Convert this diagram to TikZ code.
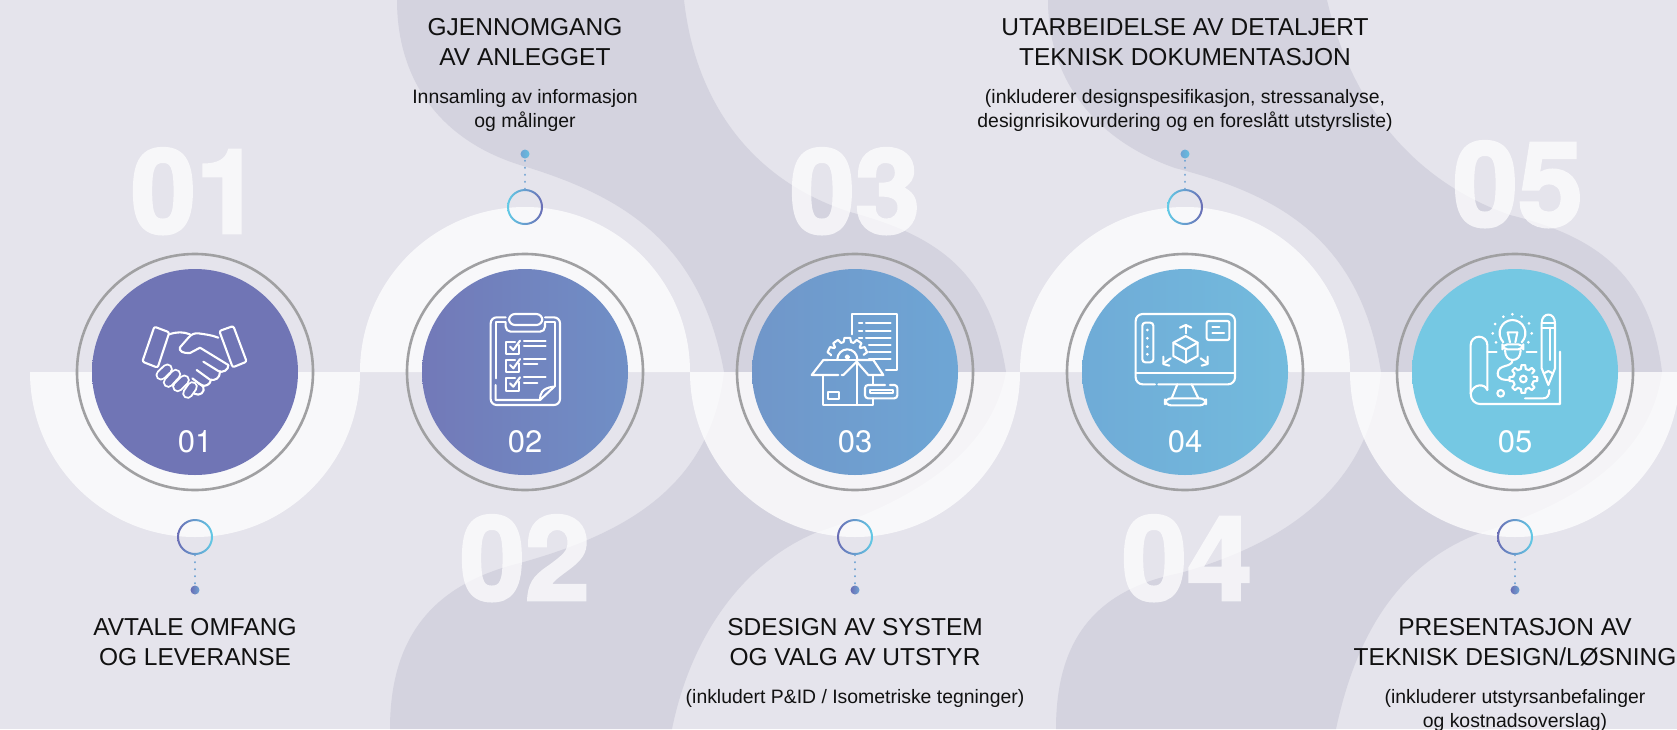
\documentclass[tikz,border=0pt]{standalone}
\usepackage{fontspec}
\setmainfont{Liberation Sans}
\newfontfamily\digitfont{TeX Gyre Heros}
\newfontface\bigdigits{TeX Gyre Heros Bold}[FakeBold=2.5]
\definecolor{bgc}{HTML}{E5E4EC}
\definecolor{blob}{HTML}{D4D3DF}
\definecolor{ringgray}{HTML}{A0A0A2}
\definecolor{purple}{HTML}{6A6DB5}
\definecolor{cyan2}{HTML}{62CBE6}
\definecolor{dotc}{HTML}{6FA3D3}
\definecolor{txt}{HTML}{111111}
\definecolor{ca}{HTML}{7075B5}
\definecolor{cb}{HTML}{7279B8}
\definecolor{cc}{HTML}{708FC6}
\definecolor{cd}{HTML}{7096C9}
\definecolor{ce}{HTML}{6EA6D5}
\definecolor{cf}{HTML}{6FABD7}
\definecolor{cg}{HTML}{73BBDD}
\definecolor{ch}{HTML}{75C8E3}
\tikzset{
  halfdisc/.style={fill=white,fill opacity=.77},
  bignum/.style={font=\fontsize{117}{117}\selectfont\bigdigits,text=white,anchor=base,inner sep=0},
  grayring/.style={draw=ringgray,line width=2.6pt,circle,minimum size=236pt,inner sep=0},
  disc/.style={circle,minimum size=206pt,inner sep=0},
  num/.style={font=\fontsize{31}{31}\selectfont\digitfont,text=white,anchor=base,inner sep=0},
  head/.style={font=\fontsize{24.5}{30.5}\selectfont,text=txt,align=center,anchor=north,inner sep=0},
  subt/.style={font=\fontsize{19.4}{24.5}\selectfont,text=txt,align=center,anchor=north,inner sep=0},
  marker/.style={circle,minimum size=36pt,inner sep=0},
  tipdot/.style={circle,minimum size=9pt,inner sep=0},
  dotline/.style={draw=dotc,line width=2.2pt,line cap=round,dash pattern=on 0.01pt off 7pt},
  ic/.style={draw=white,line width=2.1pt,line cap=round,line join=round},
}
\newcommand\toothgear[6]{% cx cy ro ri, angle list, first angle
  \draw[ic,shift={(#1,#2)}] (#6:#4) \foreach \a in {#5}{ -- (\a-13:#4) -- (\a-8:#3) -- (\a+8:#3) -- (\a+13:#4) };
}
\begin{document}
\begin{tikzpicture}[x=1pt,y=-1pt]
\useasboundingbox (0,0) rectangle (1677,729);
\clip (0,0) rectangle (1677,729);
\fill[bgc] (0,0) rectangle (1677,729);
% background blobs
\fill[blob] (397,0) .. controls (397,80) and (440,140) .. (520,165) .. controls (620,195) and (700,240) .. (724,372)
  -- (1006,372) .. controls (990,270) and (935,235) .. (850,212) .. controls (750,180) and (695,100) .. (684,0) -- cycle;
\fill[blob] (1048,0) .. controls (1048,80) and (1095,140) .. (1175,168) .. controls (1280,195) and (1360,240) .. (1381,372)
  -- (1662,372) .. controls (1650,270) and (1590,235) .. (1510,215) .. controls (1410,180) and (1350,100) .. (1327,0) -- cycle;
\fill[blob] (390,729) .. controls (390,640) and (430,585) .. (520,563) .. controls (620,535) and (710,490) .. (724,372)
  -- (1006,372) .. controls (990,460) and (900,505) .. (815,533) .. controls (740,565) and (690,640) .. (672,729) -- cycle;
\fill[blob] (1056,729) .. controls (1056,640) and (1095,590) .. (1180,573) .. controls (1280,545) and (1370,490) .. (1381,372)
  -- (1662,372) .. controls (1650,460) and (1570,505) .. (1480,533) .. controls (1395,565) and (1355,640) .. (1336,729) -- cycle;
% big numbers
\begin{scope}[transparency group,opacity=.72]
\node[bignum] (big1) at (196,233) {01};
\node[bignum] (big2) at (525,600) {02};
\node[bignum] (big3) at (855,233) {03};
\node[bignum] (big4) at (1187,600) {04};
\node[bignum] (big5) at (1518,226) {05};
\end{scope}
% half discs
\fill[halfdisc] (30,372) arc[start angle=180,end angle=0,radius=165] -- cycle;
\fill[halfdisc] (690,372) arc[start angle=180,end angle=0,radius=165] -- cycle;
\fill[halfdisc] (1350,372) arc[start angle=180,end angle=0,radius=165] -- cycle;
\fill[halfdisc] (360,372) arc[start angle=180,end angle=360,radius=165] -- cycle;
\fill[halfdisc] (1020,372) arc[start angle=180,end angle=360,radius=165] -- cycle;
% circles
\node[grayring] (g1) at (195,372) {};
\node[grayring] (g2) at (525,372) {};
\node[grayring] (g3) at (855,372) {};
\node[grayring] (g4) at (1185,372) {};
\node[grayring] (g5) at (1515,372) {};
\node[disc,left color=ca,right color=ca] (c1) at (195,372) {};
\node[disc,left color=cb,right color=cc] (c2) at (525,372) {};
\node[disc,left color=cd,right color=ce] (c3) at (855,372) {};
\node[disc,left color=cf,right color=cg] (c4) at (1185,372) {};
\node[disc,left color=ch,right color=ch] (c5) at (1515,372) {};
\node[num] (n1) at (195,452) {01};
\node[num] (n2) at (525,452) {02};
\node[num] (n3) at (855,452) {03};
\node[num] (n4) at (1185,452) {04};
\node[num] (n5) at (1515,452) {05};
% markers
\node[marker] (r1) at (195,537) {};
\node[marker] (r2) at (525,207) {};
\node[marker] (r3) at (855,537) {};
\node[marker] (r4) at (1185,207) {};
\node[marker] (r5) at (1515,537) {};
\shade[even odd rule,left color=purple,right color=cyan2] (r1.center) circle (18) (r1.center) circle (16);
\shade[even odd rule,left color=cyan2,right color=purple] (r2.center) circle (18) (r2.center) circle (16);
\shade[even odd rule,left color=purple,right color=cyan2] (r3.center) circle (18) (r3.center) circle (16);
\shade[even odd rule,left color=cyan2,right color=purple] (r4.center) circle (18) (r4.center) circle (16);
\shade[even odd rule,left color=purple,right color=cyan2] (r5.center) circle (18) (r5.center) circle (16);
\node[tipdot,left color=purple,right color=dotc] (d1) at (195,590) {};
\node[tipdot,left color=dotc,right color=cyan2!70!dotc] (d2) at (525,154) {};
\node[tipdot,left color=purple,right color=dotc] (d3) at (855,590) {};
\node[tipdot,left color=dotc,right color=cyan2!70!dotc] (d4) at (1185,154) {};
\node[tipdot,left color=purple,right color=dotc] (d5) at (1515,590) {};
\draw[dotline] (r1) -- (d1);
\draw[dotline] (r2) -- (d2);
\draw[dotline] (r3) -- (d3);
\draw[dotline] (r4) -- (d4);
\draw[dotline] (r5) -- (d5);
% texts
\node[head] (h1) at (195,618) {AVTALE OMFANG\\OG LEVERANSE};
\node[head] (h2) at (525,18) {GJENNOMGANG\\AV ANLEGGET};
\node[subt] (s2) at (525,89) {Innsamling av informasjon\\og målinger};
\node[head] (h3) at (855,618) {SDESIGN AV SYSTEM\\OG VALG AV UTSTYR};
\node[subt] (s3) at (855,689) {(inkludert P\&ID / Isometriske tegninger)};
\node[head] (h4) at (1185,18) {UTARBEIDELSE AV DETALJERT\\TEKNISK DOKUMENTASJON};
\node[subt] (s4) at (1185,89) {(inkluderer designspesifikasjon, stressanalyse,\\designrisikovurdering og en foreslått utstyrsliste)};
\node[head] (h5) at (1515,618) {PRESENTASJON AV\\TEKNISK DESIGN/LØSNING};
\node[subt] (s5) at (1515,689) {(inkluderer utstyrsanbefalinger\\og kostnadsoverslag)};
% icon 1
\begin{scope}[shift={(135,315)},scale=1/3]
\draw[ic,rounded corners=2pt] (58,35)--(103,52)--(68,158)--(22,140)--cycle;
\draw[ic,rounded corners=2pt] (253,48)--(295,33)--(335,140)--(293,157)--cycle;
\draw[ic] (103,58) .. controls (125,50) and (145,50) .. (165,58);
\draw[ic] (250,68) .. controls (230,60) and (210,58) .. (190,55) .. controls (178,54) and (170,58) .. (162,66) -- (135,97) .. controls (130,108) and (145,116) .. (165,114) -- (195,98) -- (280,150);
\draw[ic] (280,150) .. controls (282,165) and (262,175) .. (250,168) -- (205,140);
\draw[ic] (255,170) .. controls (255,190) and (240,198) .. (225,194) -- (185,165);
\draw[ic] (228,195) .. controls (225,210) and (210,216) .. (198,210) -- (172,190);
\foreach \xa/\ya/\xb/\yb in {97/162/78/180,122/178/100/202,148/195/128/215}{
  \draw[white,line width=11pt,line cap=round] (\xa,\ya)--(\xb,\yb);
  \draw[ca,line width=7pt,line cap=round] (\xa,\ya)--(\xb,\yb);
}
\draw[ic] (190,205) .. controls (205,208) and (212,225) .. (200,235) .. controls (195,240) and (185,240) .. (178,236);
\draw[white,line width=11pt,line cap=round] (172,215)--(158,235);
\draw[ca,line width=7pt,line cap=round] (172,215)--(158,235);
\end{scope}
% icon 2
\begin{scope}[shift={(380,130)},scale=1/3]
\draw[ic,rounded corners=6pt] (377,562)--(332,562)--(332,825)--(540,825)--(540,562)--(495,562);
\draw[ic] (347,745)--(347,575)--(377,575);
\draw[ic] (495,575)--(525,575)--(525,768);
\draw[ic] (347,765)--(347,810)--(480,810)--(525,768);
\draw[ic] (480,810).. controls (480,790) and (485,775) .. (520,770);
\draw[ic,rounded corners=6pt] (387,552) rectangle (487,585);
\draw[ic,rounded corners=5pt] (377,578)--(377,605)--(495,605)--(495,578);
\foreach \t in {635,690,745}{
  \draw[ic] (418,\t+10)--(418,\t+37)--(377,\t+37)--(377,\t)--(405,\t);
  \draw[ic] (390,\t+15)--(400,\t+25)--(420,\t-3);
}
\foreach \xe/\ye in {497/632,497/648,497/687,472/703,497/742,472/758}{\draw[ic] (432,\ye)--(\xe,\ye);}
\end{scope}
% icon 3
\begin{scope}[shift={(800,305)},scale=1/3]
\draw[ic] (155,88)--(155,28)--(292,28)--(292,195)--(258,195);
\foreach \y in {55,77,98}{\draw[ic] (177,\y)--(187,\y);\draw[ic] (198,\y)--(272,\y);}
\foreach \y in {120,142,163}{\draw[ic] (207,\y)--(272,\y);}
\toothgear{142}{160}{62}{50}{205,235,270,305,335}{190}
\draw[ic] (112,163) arc[start angle=180,end angle=360,radius=30];
\draw[ic] (142,156) circle (5pt);
\draw[ic] (85,165)--(70,165)--(35,210)--(115,210);
\draw[ic] (125,210)--(130,210)--(170,170);
\draw[ic] (70,165)--(170,165);
\draw[ic] (170,170)--(205,210)--(250,210)--(220,165)--(170,165);
\draw[ic] (68,212)--(68,300)--(218,300)--(218,280);
\draw[ic] (218,212)--(218,238);
\draw[ic] (170,170)--(170,300);
\draw[ic] (85,260) rectangle (118,282);
\draw[ic,rounded corners=3pt] (270,240)--(292,240)--(292,280)--(195,280)--(195,240)--(255,240);
\draw[ic] (210,255) rectangle (278,265);
\end{scope}
% icon 4
\begin{scope}[shift={(1050,250)},scale=1/3]
\draw[ic,rounded corners=7pt] (315,403)--(257,403)--(257,192)--(555,192)--(555,403)--(325,403);
\draw[ic] (257,370)--(555,370);
\draw[ic] (382,403)--(365,445);
\draw[ic] (425,403)--(445,445);
\draw[ic,rounded corners=6pt] (345,445) rectangle (468,466);
\draw[ic,rounded corners=3pt] (277,218) rectangle (310,337);
\foreach \y in {240,265,290,313}{\fill[white] (292,\y) circle (4.5);}
\draw[ic,rounded corners=2pt] (470,213) rectangle (538,270);
\draw[ic] (487,232)--(508,232);
\draw[ic] (487,248)--(522,248);
\draw[ic] (407,258)--(443,278)--(443,318)--(407,338)--(370,318)--(370,278)--cycle;
\draw[ic] (370,278)--(407,298)--(443,278);
\draw[ic] (407,298)--(407,338);
\draw[ic] (407,250)--(407,225);
\draw[ic] (390,233)--(407,225)--(424,233);
\draw[ic] (362,325)--(340,340);
\draw[ic] (340,320)--(340,342)--(358,347);
\draw[ic] (452,325)--(473,340);
\draw[ic] (473,320)--(473,342)--(455,347);
\end{scope}
% icon 5
\begin{scope}[shift={(1460,305)},scale=1/3]
\draw[ic] (32,265)--(32,120) arc[start angle=180,end angle=360,radius=25]--(82,255);
\draw[ic] (82,255) .. controls (75,235) and (40,235) .. (32,265) .. controls (32,285) and (45,297) .. (60,297) -- (300,297) -- (300,140);
\draw[ic] (195,280)--(250,280) .. controls (262,280) and (268,270) .. (268,255);
\draw[ic] (82,140)--(110,140);
\draw[ic] (200,140)--(230,140);
\draw[ic] (130,112) .. controls (105,85) and (125,45) .. (157,45) .. controls (190,45) and (210,85) .. (185,112);
\draw[ic,rounded corners=5pt] (127,118) rectangle (190,133);
\draw[ic] (135,135) .. controls (135,155) and (145,165) .. (158,165) .. controls (172,165) and (182,155) .. (182,135);
\draw[ic] (150,112)--(143,82)--(172,82)--(166,112);
\draw[ic] (158,165) .. controls (155,190) and (115,175) .. (113,205) .. controls (113,225) and (135,225) .. (148,225);
\toothgear{190}{222}{42}{31}{0,45,90,135,180,225,270,315}{-13}
\draw[ic] (190,222) circle (10);
\draw[ic] (122,265) circle (10);
\foreach \x/\y in {157/28,185/35,207/55,215/85,205/112,130/35,105/57,98/85,108/112}{\fill[white] (\x,\y) circle (4.5);}
\draw[ic] (245,190)--(245,55) .. controls (245,20) and (285,20) .. (285,55)--(285,190)--(265,240)--cycle;
\draw[ic] (245,55)--(285,55);
\draw[ic] (245,68)--(285,68);
\draw[ic] (270,68)--(270,165);
\draw[ic] (252,205)--(265,198)--(278,205);
\end{scope}
\end{tikzpicture}
\end{document}
